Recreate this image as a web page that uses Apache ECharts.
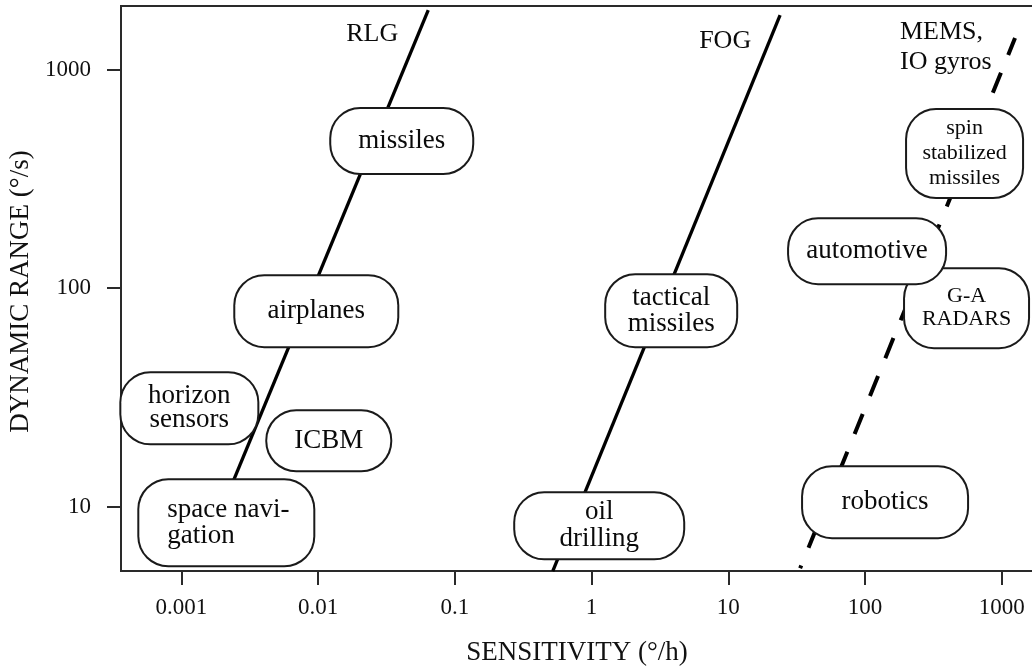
<!DOCTYPE html>
<html>
<head>
<meta charset="utf-8">
<script src="https://cdn.jsdelivr.net/npm/echarts@6/dist/echarts.min.js"></script>
<style>
html, body { margin: 0; padding: 0; background: #fff; }
#chart { width: 1032px; height: 668px; }
</style>
</head>
<body>
<div id="chart"></div>
<script>
// ---- data ----
const xTickValues = [0.001, 0.01, 0.1, 1, 10, 100, 1000];
const xTickLabels = ['0.001', '0.01', '0.1', '1', '10', '100', '1000'];
const yTickValues = [10, 100, 1000];
const yTickLabels = ['10', '100', '1000'];

const rlgLine = [[0.00173, 8], [0.0639, 1872]];
const fogLine = [[0.52, 5.08], [23.9, 1776]];
const memsLine = [[33.5, 5.23], [1249, 1394]];

const appNames = ['missiles', 'airplanes', 'horizon\nsensors', 'ICBM', 'space navi-\ngation',
  'tactical\nmissiles', 'oil\ndrilling', 'G-A\nRADARS', 'automotive', 'robotics',
  'spin\nstabilized\nmissiles'];
const appX = [0.0409, 0.0097, 0.001144, 0.01197, 0.002132, 3.82, 1.137, 552, 103.4, 140.0, 533.9];
const appY = [470.9, 78.5, 28.2, 20.05, 8.45, 78.9, 8.18, 81.0, 147.7, 10.5, 412.7];

const tagNames = ['RLG', 'FOG', 'MEMS,\nIO gyros'];
const tagX = [0.02489, 9.48, 180];
const tagY = [1454, 1343, 1268];

// ---- styles (box sizes, fonts) ----
const boxStyles = [
  { w: 141, h: 64, fs: 27, lh: 27 },
  { w: 162, h: 70, fs: 27, lh: 27 },
  { w: 136, h: 70, fs: 27, lh: 24 },
  { w: 123, h: 59, fs: 27, lh: 27 },
  { w: 174, h: 85, fs: 27, lh: 26, left: 28 },
  { w: 130, h: 71, fs: 27, lh: 26 },
  { w: 168, h: 65, fs: 27, lh: 27 },
  { w: 123, h: 78, fs: 22, lh: 23 },
  { w: 156, h: 64, fs: 27, lh: 27 },
  { w: 164, h: 70, fs: 27, lh: 27 },
  { w: 115, h: 87, fs: 22, lh: 25 }
];
const tagStyles = [
  { align: 'center' }, { align: 'center' }, { align: 'left' }
];

const SERIF = '"Liberation Serif", "DejaVu Serif", serif';

function fmt(values, labels) {
  return function (v) {
    for (let i = 0; i < values.length; i++) {
      if (Math.abs(Math.log10(v) - Math.log10(values[i])) < 1e-6) return labels[i];
    }
    return '';
  };
}

const boxData = appNames.map(function (name, i) {
  const s = boxStyles[i];
  const n = name.split('\n').length;
  const pv = Math.max(0, (s.h - n * s.lh) / 2);
  const label = {
    show: true,
    position: 'inside',
    formatter: name,
    fontFamily: SERIF,
    fontSize: s.fs,
    lineHeight: s.lh,
    color: '#0a0a0a',
    textBorderWidth: 0,
    backgroundColor: '#fff',
    borderColor: '#1a1a1a',
    borderWidth: 2,
    borderRadius: 29,
    verticalAlign: 'middle'
  };
  if (s.left) {
    label.align = 'left';
    label.width = s.w - s.left;
    label.padding = [pv, 0, pv, s.left];
    label.offset = [-s.w / 2, 0];
  } else {
    label.align = 'center';
    label.width = s.w;
    label.padding = [pv, 0, pv, 0];
  }
  return { value: [appX[i], appY[i]], label: label };
});

const tagData = tagNames.map(function (name, i) {
  return {
    value: [tagX[i], tagY[i]],
    label: {
      show: true,
      position: 'inside',
      formatter: name,
      fontFamily: SERIF,
      fontSize: 26,
      lineHeight: 30,
      color: '#0a0a0a',
      textBorderWidth: 0,
      align: tagStyles[i].align,
      verticalAlign: 'middle'
    }
  };
});

const chart = echarts.init(document.getElementById('chart'), null, { renderer: 'canvas' });
chart.setOption({
  animation: false,
  backgroundColor: '#fff',
  grid: {
    left: 121, top: 6, width: 922, height: 565,
    containLabel: false, outerBoundsMode: 'none',
    show: true, borderColor: '#2a2a2a', borderWidth: 2, backgroundColor: 'transparent'
  },
  xAxis: {
    type: 'log', logBase: 10, min: 0.000362, max: 2000,
    name: 'SENSITIVITY (°/h)', nameLocation: 'middle', nameGap: 68,
    nameTextStyle: { fontFamily: SERIF, fontSize: 27, color: '#111', padding: [0, 10, 0, 0] },
    axisLine: { show: true, lineStyle: { color: '#2a2a2a', width: 2 } },
    axisTick: { show: true, inside: false, length: 14, customValues: xTickValues,
      lineStyle: { color: '#2a2a2a', width: 2 } },
    axisLabel: { show: true, margin: 25, customValues: xTickValues,
      formatter: fmt(xTickValues, xTickLabels),
      fontFamily: SERIF, fontSize: 23, color: '#111' },
    splitLine: { show: false }, minorTick: { show: false }
  },
  yAxis: {
    type: 'log', logBase: 10, min: 5.085, max: 1953,
    name: 'DYNAMIC RANGE (°/s)', nameLocation: 'middle', nameGap: 84,
    nameTextStyle: { fontFamily: SERIF, fontSize: 27, color: '#111', padding: [0, 6, 0, 0] },
    axisLine: { show: true, lineStyle: { color: '#2a2a2a', width: 2 } },
    axisTick: { show: true, inside: false, length: 14, customValues: yTickValues,
      lineStyle: { color: '#2a2a2a', width: 2 } },
    axisLabel: { show: true, margin: 30, customValues: yTickValues,
      formatter: fmt(yTickValues, yTickLabels),
      fontFamily: SERIF, fontSize: 23, color: '#111' },
    splitLine: { show: false }, minorTick: { show: false }
  },
  series: [
    { type: 'line', name: 'RLG', data: rlgLine, symbol: 'none', z: 2, silent: true,
      lineStyle: { color: '#000', width: 3.3 } },
    { type: 'line', name: 'FOG', data: fogLine, symbol: 'none', z: 2, silent: true,
      lineStyle: { color: '#000', width: 3.3 } },
    { type: 'line', name: 'MEMS', data: memsLine, symbol: 'none', z: 2, silent: true,
      lineStyle: { color: '#000', width: 4, type: [21.6, 19.3], dashOffset: 18.6 } },
    { type: 'scatter', name: 'applications', data: boxData, symbolSize: 1, z: 5, silent: true,
      itemStyle: { color: 'rgba(0,0,0,0)', opacity: 1 } },
    { type: 'scatter', name: 'tags', data: tagData, symbolSize: 1, z: 5, silent: true,
      itemStyle: { color: 'rgba(0,0,0,0)', opacity: 1 } }
  ]
});
</script>
</body>
</html>
